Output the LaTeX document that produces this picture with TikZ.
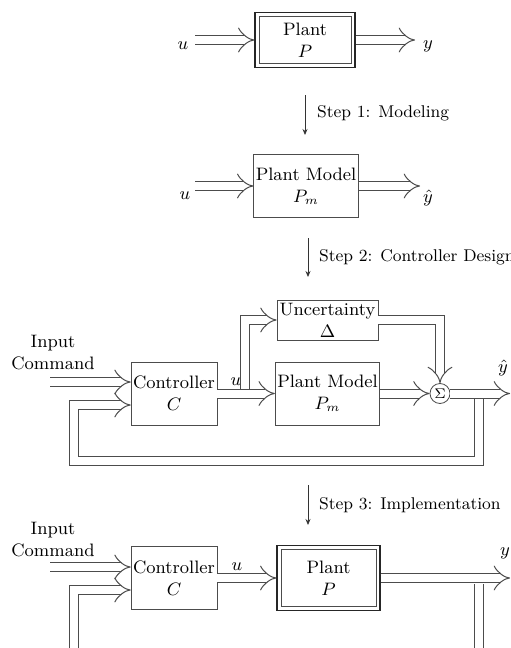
\documentclass[tikz,border=0pt]{standalone}
\usetikzlibrary{arrows.meta}
\begin{document}
\begin{tikzpicture}[
    x=0.5pt, y=-0.5pt,
    every node/.style={font=\small},
    block/.style={rectangle, draw=black!70, thin, align=center, inner sep=1pt},
    plantbox/.style={block, semithick, draw=black!85,
        path picture={\draw[black!70, thin] ([shift={(2pt,-2pt)}]path picture bounding box.north west) rectangle ([shift={(-2pt,2pt)}]path picture bounding box.south east);}},
    sumnode/.style={circle, draw=black!70, thin, minimum size=10pt, inner sep=0pt, font=\scriptsize},
    sig/.style={draw=black!70, double, double distance=4pt, line width=0.5pt, -{Implies}},
    steparrow/.style={draw=black!80, thin, -{Stealth[length=3pt, width=2.5pt]}},
    steplabel/.style={anchor=west, font=\fontsize{8.5}{10}\selectfont},
    lbl/.style={inner sep=1pt}
]
\useasboundingbox (0,0) rectangle (510,648);

% -------------------------
% Real plant
% -------------------------
    \node[plantbox, minimum width=50pt, minimum height=27.5pt] (plant0) at (305,40) {Plant\\$P$};
    \coordinate (u0) at (195,40);
    \coordinate (y0) at (415,40);
    \node[lbl] (ulab0) at (183,46) {$u$};
    \node[lbl] (ylab0) at (428,46) {$y$};
    \draw[sig] (u0) -- (plant0);
    \draw[sig] (plant0) -- (y0);

% -------------------------
% Step 1: modeling
% -------------------------
    \coordinate (s1a) at (305,95);
    \coordinate (s1b) at (305,135);
    \draw[steparrow] (s1a) -- (s1b);
    \node[steplabel] (step1) at (310,113) {Step 1: Modeling};

    \node[block, minimum width=51.5pt, minimum height=31.5pt] (model0) at (306,186) {Plant Model\\$P_m$};
    \coordinate (u1) at (195,186);
    \coordinate (y1) at (420,186);
    \node[lbl] (ulab1) at (185,196) {$u$};
    \node[lbl] (ylab1) at (428,198) {$\hat{y}$};
    \draw[sig] (u1) -- (model0);
    \draw[sig] (model0) -- (y1);

% -------------------------
% Step 2: controller design
% -------------------------
    \coordinate (s2a) at (308,238);
    \coordinate (s2b) at (308,277);
    \draw[steparrow] (s2a) -- (s2b);
    \node[steplabel] (step2) at (312,257) {Step 2: Controller Design};

    \node[block, inner sep=0pt, minimum width=50.5pt, minimum height=20pt] (unc) at (327.5,320) {Uncertainty\\$\Delta$};
    \node[block, minimum width=41pt, minimum height=31.5pt] (ctrl1) at (174,393.5) {Controller\\$C$};
    \node[block, minimum width=50.5pt, minimum height=31.5pt] (model1) at (327.5,393.5) {Plant Model\\$P_m$};
    \node[sumnode] (sum1) at (440,393.5) {$\Sigma$};
    \node[align=center] (cmd1) at (53,353) {Input\\Command};
    \node[lbl] (ulab2) at (236,382) {$u$};
    \node[lbl] (ylab2) at (503,368) {$\hat{y}$};

    \coordinate (in1) at (50,382);
    \coordinate (br1) at (245,389);
    \coordinate (out1) at (510,393.5);
    \coordinate (tap1) at (479,399);
    \coordinate (bot1) at (74,461);
    \coordinate (fb1) at (74,405);

    \draw[sig] (br1) |- (unc);
    \draw[sig] (in1) -- (in1 -| ctrl1.west);
    \draw[sig] (ctrl1) -- (model1);
    \draw[sig] (unc) -| (sum1);
    \draw[sig] (model1) -- (sum1);
    \draw[sig] (sum1) -- (out1);
    \draw[sig] (tap1) |- (bot1) -- (fb1) -- (fb1 -| ctrl1.west);

% -------------------------
% Step 3: implementation
% -------------------------
    \coordinate (s3a) at (308,485);
    \coordinate (s3b) at (308,525);
    \draw[steparrow] (s3a) -- (s3b);
    \node[steplabel] (step3) at (312,505) {Step 3: Implementation};

    \node[block, minimum width=41pt, minimum height=31.5pt] (ctrl2) at (174,578) {Controller\\$C$};
    \node[plantbox, minimum width=51.5pt, minimum height=32.5pt] (plant2) at (328.5,578) {Plant\\$P$};
    \node[align=center] (cmd2) at (53,540) {Input\\Command};
    \node[lbl] (ulab3) at (237,567) {$u$};
    \node[lbl] (ylab3) at (505,553) {$y$};

    \coordinate (in2) at (50,567);
    \coordinate (out2) at (510,578);
    \coordinate (tap2) at (479,584);
    \coordinate (bot2) at (74,665);
    \coordinate (fb2) at (74,590);

    \draw[sig] (in2) -- (in2 -| ctrl2.west);
    \draw[sig] (ctrl2) -- (plant2);
    \draw[sig] (plant2) -- (out2);
    \draw[sig] (tap2) |- (bot2) -- (fb2) -- (fb2 -| ctrl2.west);
\end{tikzpicture}
\end{document}
